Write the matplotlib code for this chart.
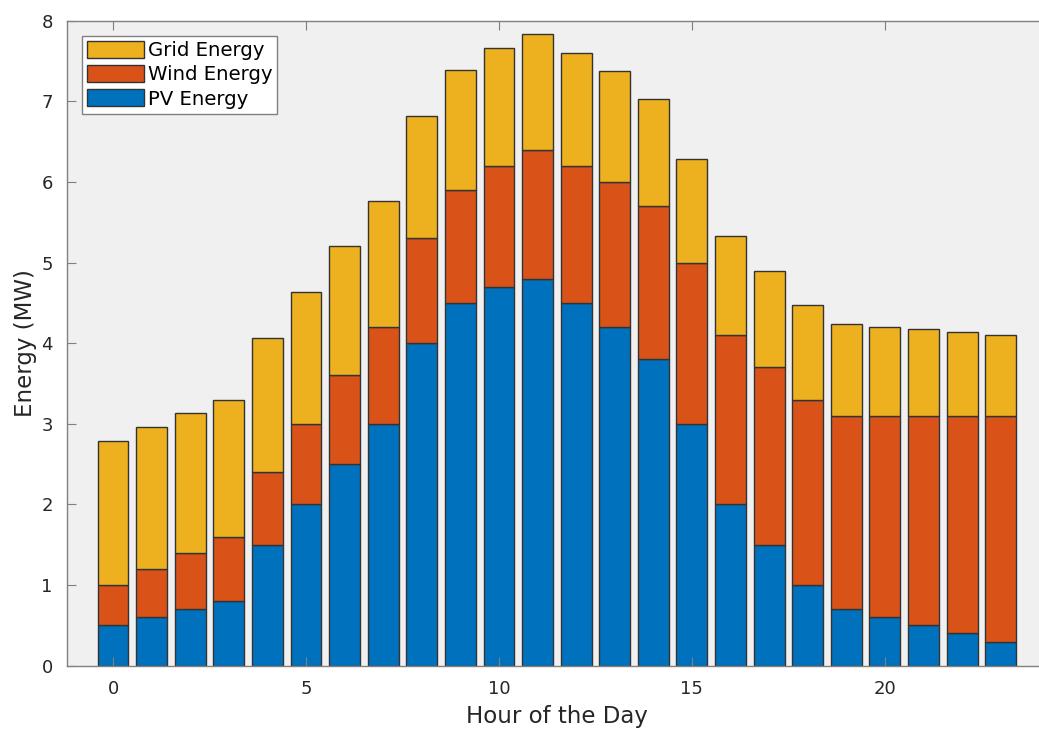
import numpy as np
import matplotlib.pyplot as plt

# data
hours = np.arange(24)
pv = [0.5, 0.6, 0.7, 0.8, 1.5, 2.0, 2.5, 3.0, 4.0, 4.5, 4.7, 4.8,
      4.5, 4.2, 3.8, 3.0, 2.0, 1.5, 1.0, 0.7, 0.6, 0.5, 0.4, 0.3]
wind = [0.5, 0.6, 0.7, 0.8, 0.9, 1.0, 1.1, 1.2, 1.3, 1.4, 1.5, 1.6,
        1.7, 1.8, 1.9, 2.0, 2.1, 2.2, 2.3, 2.4, 2.5, 2.6, 2.7, 2.8]
total = [2.79, 2.96, 3.13, 3.29, 4.06, 4.63, 5.20, 5.76, 6.82, 7.39, 7.66, 7.83,
         7.60, 7.37, 7.03, 6.28, 5.33, 4.90, 4.47, 4.24, 4.20, 4.17, 4.14, 4.10]
grid = [t - p - w for t, p, w in zip(total, pv, wind)]

c_pv = '#0072BD'
c_wind = '#D95319'
c_grid = '#EDB120'
edge = '#333333'

fig = plt.figure(figsize=(10.39, 7.29), dpi=100)
ax = fig.add_axes([66.7/1039, 1 - 665.7/729, (1047 - 66.7)/1039, (665.7 - 20.7)/729])
ax.set_facecolor('#f0f0f0')

b_pv = ax.bar(hours, pv, width=0.8, color=c_pv, edgecolor=edge, linewidth=1)
b_wind = ax.bar(hours, wind, width=0.8, bottom=pv, color=c_wind, edgecolor=edge, linewidth=1)
b_grid = ax.bar(hours, grid, width=0.8, bottom=np.add(pv, wind), color=c_grid,
                edgecolor=edge, linewidth=1)

ax.set_xlim(-1.2, 24.2)
ax.set_ylim(0, 8)
ax.set_xticks([0, 5, 10, 15, 20])
ax.set_yticks(range(9))
ax.tick_params(direction='in', length=6.5, width=0.8, color='#808080',
               labelsize=13, labelcolor='#262626', top=True, pad=10)
for s in ax.spines.values():
    s.set_color('#808080')
    s.set_linewidth(1)
ax.spines['right'].set_visible(False)

# kept just inside the bottom edge (reference crops the descenders)
ax.set_xlabel('Hour of the Day', fontsize=16.5, color='#262626', labelpad=5)
ax.set_ylabel('Energy (MW)', fontsize=16.5, color='#262626', labelpad=3)

leg = ax.legend([b_grid, b_wind, b_pv], ['Grid Energy', 'Wind Energy', 'PV Energy'],
                loc='upper left', bbox_to_anchor=(81.7/1039, 1 - 36/729),
                bbox_transform=fig.transFigure, borderaxespad=0, fontsize=14.2,
                handlelength=2.9, handleheight=0.95, labelspacing=0.25,
                handletextpad=0.2, borderpad=0.25, fancybox=False, framealpha=1)
leg.get_frame().set_edgecolor('#808080')
leg.get_frame().set_linewidth(1)

plt.savefig('out.png', dpi=100)
